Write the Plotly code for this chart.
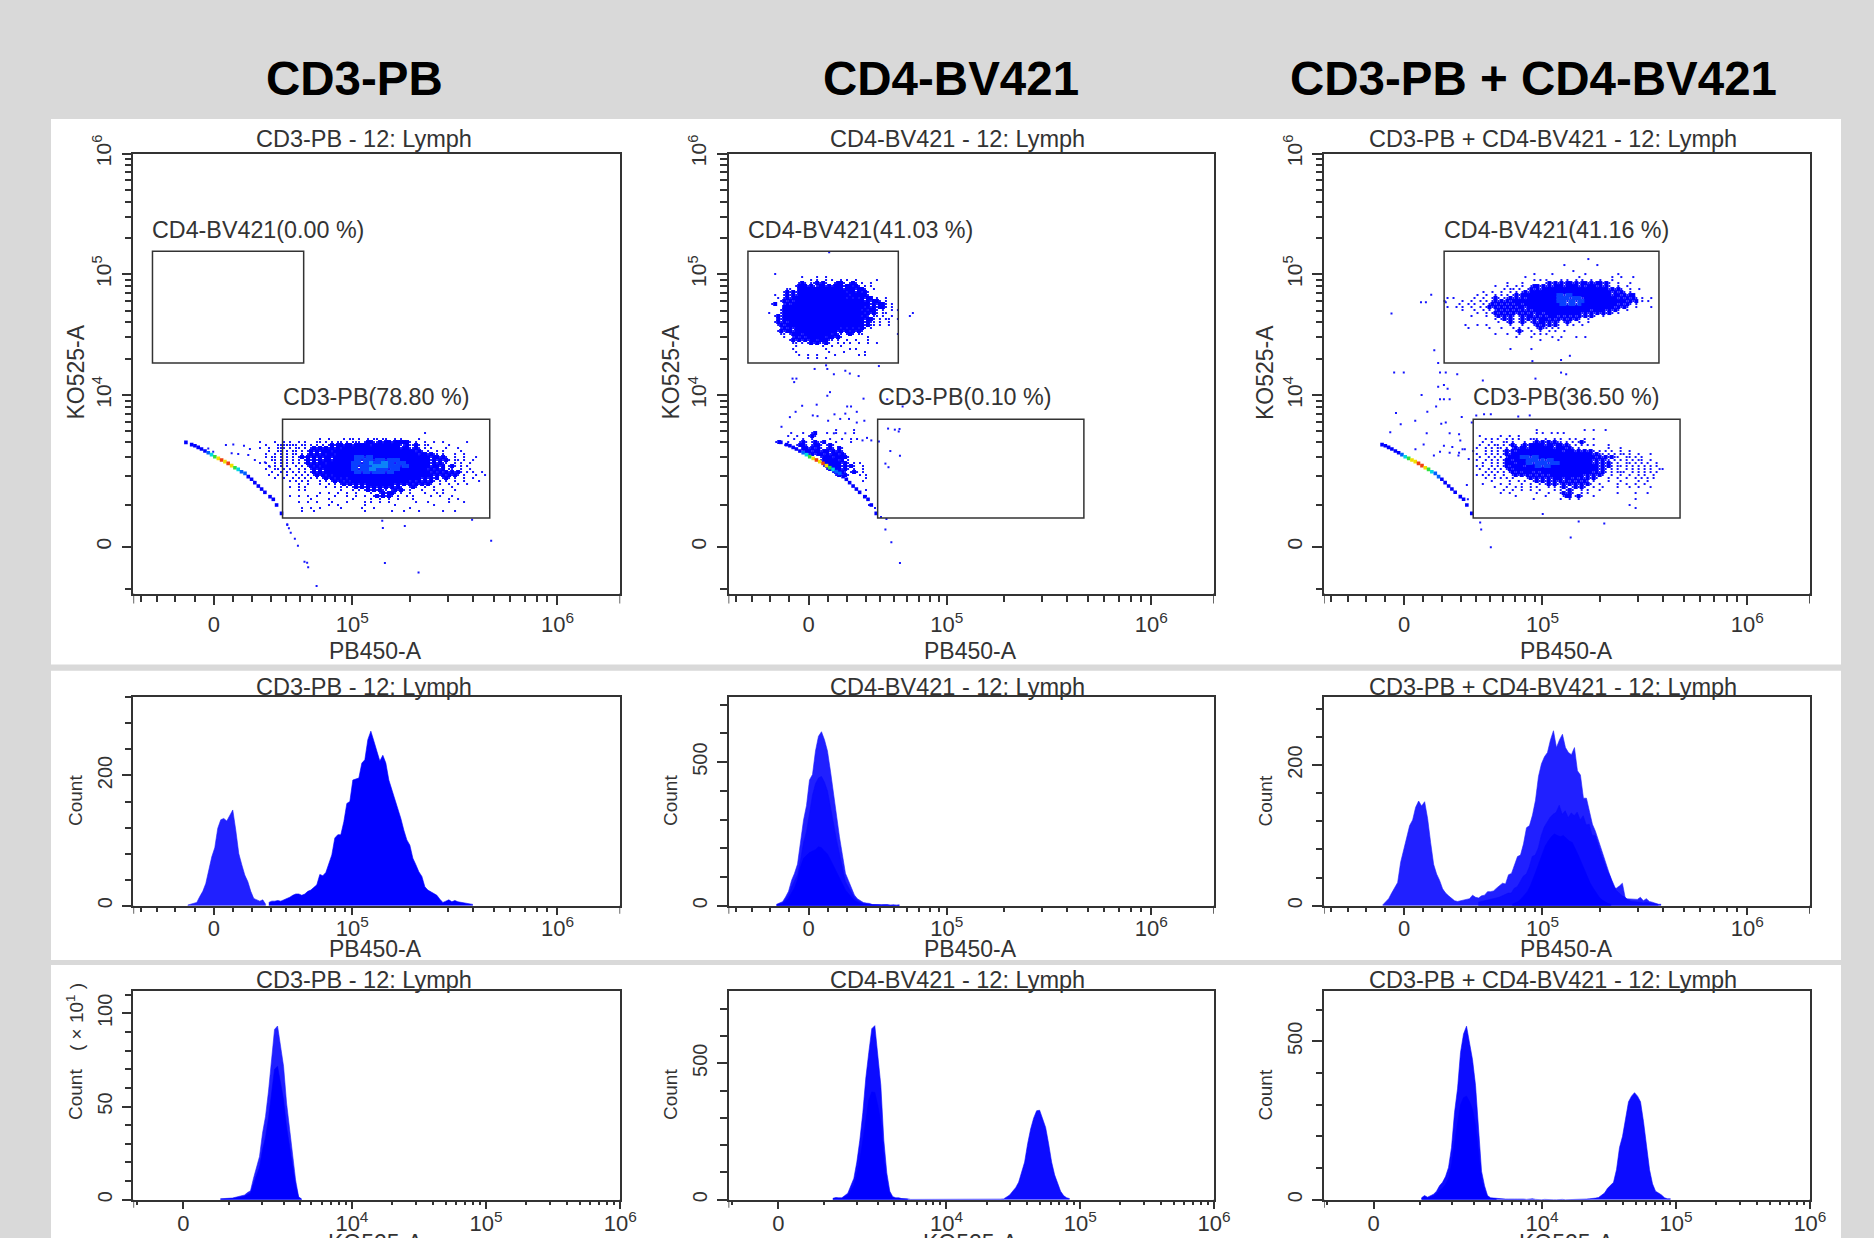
import plotly.graph_objects as go

W, H = 1874, 1238
FONT = "Liberation Sans"
INK = "#333333"
GRAY = "#d9d9d9"

HEADERS = ["CD3-PB", "CD4-BV421", "CD3-PB + CD4-BV421"]
HEADER_X = [354, 951, 1533]
TITLES = ["CD3-PB - 12: Lymph", "CD4-BV421 - 12: Lymph", "CD3-PB + CD4-BV421 - 12: Lymph"]
TITLE_X = [364, 957, 1553]
XTITLE_X = [375, 970, 1566]
YTITLE_X = [75, 670, 1264.5]

COL_L = [133.4, 728.5, 1323.9]
COL_R = [620.2, 1214.0, 1809.9]
ROW_T = [153.6, 697.3, 991.0]
ROW_B = [593.6, 905.7, 1199.7]

# axis scales, in decades of the display (biexponential) transform
PB_RANGE = [3.933, 6.306]
PB_TICKS = [4.325, 5.0, 6.0]
PB_LABELS = ["0", "10<sup>5</sup>", "10<sup>6</sup>"]
PB_MINOR = [3.970, 4.049, 4.138, 4.231, 4.418, 4.511, 4.604, 4.675, 4.743, 4.806, 4.866, 4.916, 4.963,
            5.28, 5.466, 5.588, 5.69, 5.77, 5.84, 5.90, 5.951]
KO_RANGE_X = [2.371, 6.0]
KO_RANGE_Y = [2.355, 6.0]
KO_TICKS = [2.743, 4.0, 5.0, 6.0]
KO_TICKS_X_LABELS = ["0", "10<sup>4</sup>", "10<sup>5</sup>", "10<sup>6</sup>"]
KO_Y_TICKS = [2.743, 4.0, 5.0, 6.0]
KO_Y_LABELS = ["0", "10<sup>4</sup>", "10<sup>5</sup>", "10<sup>6</sup>"]
KO_MINOR = [2.396, 3.086, 3.328, 3.49, 3.61, 3.698, 3.778, 3.845, 3.903, 3.954,
            4.301, 4.477, 4.602, 4.699, 4.778, 4.845, 4.903, 4.954,
            5.301, 5.477, 5.602, 5.699, 5.778, 5.845, 5.903, 5.954]

COUNT_RANGES = [[320, 726, 296.6], [112, 765, 659]]
COUNT_TICKS = [[[0, 200], [0, 500], [0, 200]], [[0, 50, 100], [0, 500], [0, 500]]]
COUNT_MINOR = [[[40, 80, 120, 160, 240, 280, 320], [100, 200, 300, 400, 600, 700], [40, 80, 120, 160, 240, 280]],
               [[10, 20, 30, 40, 60, 70, 80, 90, 110], [100, 200, 300, 400, 600, 700], [100, 200, 300, 400, 600]]]

# gates: x0, x1, y0, y1 in axis units; label
GATE_CD4_X = [[4.026, 4.763], [4.028, 4.763], [4.52, 5.569]]
GATE_CD4_Y = [4.266, 5.192]
GATE_CD3_X = [[4.660, 5.670], [4.662, 5.670], [4.662, 5.672]]
GATE_CD3_Y = [2.982, 3.799]
LABEL_CD4 = ["CD4-BV421(0.00 %)", "CD4-BV421(41.03 %)", "CD4-BV421(41.16 %)"]
LABEL_CD3 = ["CD3-PB(78.80 %)", "CD3-PB(0.10 %)", "CD3-PB(36.50 %)"]

# negative-population streak along the axis, with density level
STREAK_X = [4.189, 4.217, 4.233, 4.249, 4.265, 4.282, 4.298, 4.314, 4.330, 4.347, 4.363, 4.379, 4.395, 4.412,
            4.428, 4.444, 4.460, 4.477, 4.493, 4.509, 4.525, 4.542, 4.558, 4.574, 4.599, 4.615, 4.631, 4.655]
STREAK_Y = [3.608, 3.589, 3.580, 3.566, 3.553, 3.536, 3.522, 3.506, 3.489, 3.475, 3.462, 3.448, 3.434, 3.415,
            3.398, 3.384, 3.365, 3.351, 3.324, 3.302, 3.274, 3.246, 3.221, 3.194, 3.158, 3.136, 3.089, 3.020]
STREAK_LEVEL = [0, 0, 0, 0, 0, 0, 1, 2, 3, 4, 5, 4, 5, 4, 3, 2, 1, 1, 0, 0, 0, 0, 0, 0, 0, 0, 0, 0]
STREAK_LEVEL_3 = [0, 0, 0, 0, 0, 0, 0, 1, 2, 3, 4, 4, 5, 5, 4, 3, 2, 1, 1, 0, 0, 0, 0, 0, 0, 0, 0, 0]
LEVEL_COLORS = ["#0000ff", "#0060ff", "#00d8e0", "#30e040", "#f0e000", "#f04010"]

STRAY_1_X = [4.298, 4.322, 4.384, 4.420, 4.472, 4.501, 4.412, 4.444, 4.493, 4.525, 4.574, 4.598, 4.683, 4.691,
             4.72, 4.735, 4.767, 4.78, 4.785, 4.826, 5.677, 5.159, 5.323, 5.149, 5.146, 5.256, 5.584, 4.683, 4.70]
STRAY_1_Y = [3.558, 3.531, 3.586, 3.591, 3.580, 3.553, 3.517, 3.511, 3.503, 3.462, 3.442, 3.406, 2.923, 2.896,
             2.81, 2.751, 2.618, 2.61, 2.574, 2.417, 2.793, 2.609, 2.53, 2.899, 2.959, 2.914, 2.967, 2.929, 2.86]
STRAY_2_X = [4.354, 4.410, 4.416, 4.448, 4.504, 4.526, 4.569, 4.668, 4.246, 4.265, 4.254, 4.416, 4.429, 4.593,
             4.233, 4.261, 4.293, 4.364, 4.345, 4.368, 4.420, 4.451, 4.479, 4.504, 4.513, 4.532, 4.560, 4.522,
             4.597, 4.560, 4.504, 4.448, 4.588, 4.610, 4.631, 4.668, 4.192, 4.709, 4.784, 4.713, 4.746, 4.769,
             4.765, 4.724, 4.771, 4.700, 4.715, 4.705, 4.700, 4.729, 4.771, 4.425]
STRAY_2_Y = [4.216, 4.246, 4.216, 4.172, 4.201, 4.178, 4.157, 4.240, 4.136, 4.136, 4.107, 3.994, 4.024, 3.970,
             3.817, 3.861, 3.911, 3.920, 3.831, 3.825, 3.787, 3.840, 3.802, 3.846, 3.905, 3.905, 3.861, 3.802,
             3.787, 3.772, 3.683, 3.683, 3.624, 3.645, 3.624, 3.615, 3.737, 3.964, 3.905, 3.722, 3.713, 3.719,
             3.698, 3.536, 3.497, 3.432, 3.402, 2.973, 2.885, 2.781, 2.609, 5.183]
STRAY_3_X = [4.263, 4.407, 4.431, 4.457, 4.528, 4.472, 4.491, 4.276, 4.323, 4.500, 4.528, 4.584, 4.491, 4.519,
             4.537, 4.410, 4.500, 4.519, 4.547, 4.481, 4.285, 4.438, 4.379, 4.308, 4.506, 4.528, 4.606, 4.655,
             4.257, 4.435, 4.547, 4.593, 4.599, 4.519, 4.547, 4.593, 4.621, 4.662, 4.631, 4.636, 4.696, 4.701,
             4.748, 5.177, 5.302, 5.138, 4.677, 4.715, 4.748, 4.882, 4.938, 4.709, 4.966, 5.091, 5.116, 4.951,
             5.091, 5.134, 4.38, 4.42, 4.47, 4.50, 4.56, 4.59, 4.61, 4.64]
STRAY_3_Y = [4.675, 4.769, 4.769, 4.831, 4.769, 4.370, 4.266, 4.186, 4.186, 4.186, 4.186, 4.172, 4.068, 4.083,
             4.053, 4.0, 3.964, 3.964, 3.964, 3.905, 3.852, 3.861, 3.787, 3.757, 3.763, 3.772, 3.817, 3.772,
             3.692, 3.683, 3.683, 3.675, 3.624, 3.580, 3.521, 3.521, 3.550, 3.536, 3.254, 3.136, 2.944, 2.885,
             2.740, 2.953, 2.935, 2.820, 3.831, 3.840, 3.840, 3.822, 3.831, 4.121, 4.136, 4.186, 4.172, 4.281,
             4.290, 4.325, 3.55, 3.59, 3.50, 3.53, 3.57, 3.50, 3.55, 3.47]

CELL_X, CELL_Y = 0.01463, 0.02485

# density maps: '.' lone event, '#' dense, 'o' denser, 'c' densest
BLOB_1_X0, BLOB_1_Y0 = 4.550, 3.710
BLOB_1 = [
"",
"                                                       .",
"",
"                    .  .    . .. .  . .. ..  . .     .",
".    .  . .  . .   .. . . .. . ... .##..#.##.#####. .  .  .  .       .",
"  .   ....... .. . . . .#.##.##.#####.#########..#..#. ..      .",
".  .  ... . .. . .#.#.#.#.#.###################.##..#. . .    .   .",
"   .  .. . .. . .#.#.###.###########################.#. .  . .     .",
"  .  . . . .. . .#.#.#.##.###########################.##.#.. .   .  .",
"  . .. . . . .#.#.#.#.##.#######ooo.oo###################.##.#.  .  .   .",
"    .. . . . . .#.#.#.##.#######oo.ooo.ooo.oooo##########.#.#.#. .. .  .",
". .  . . . . . .#.#.##.########ooo.oocoooccoo.ooo########.#.#..  . .  .",
"   . . . .  . . .#.#.##########oo.oooocccccoooo.oo#######.##.# .#. . .",
"  .  .. . .  . . .#.#.#########oo.oooccoooo.ooo#########.#.#.# ..  .  .",
"    .  . . . . . .#.#.##########oo.oo.oooo.oo############.#.#.#.#.#. . .  .",
"   .  .  .  . . . .#.#.#.#################################.#.#.#.#. .   .  .",
"     .  .  . . . . . .#.#.#.#.########################.#.#.# .#. .  .  .",
"          . . . .   . . .#.#.#.###################.#.#.#.#. . .  .  .    .",
"             .  .   .  . . .#.#.#.#.#########.#.#.#.#.#.#.  .  .  .  .",
"          .  . .      .  . . . .#.#.#.#.#.#.#.#.  .#.  .  .     .",
"             . .           .   . . .#.#.#.. .#.#. .   .   .  .   .",
"                    .  .  .  .  .    .  .#.##. .  .    .   . .",
"          .  .  .  .     .   .  .  .  .#.#.#. .  . .     .  .   .",
"                 .     .       .     .  .  .  .    .           .  .",
"             .  .  .    .    .     . .  .  .        .   .      .    .",
"                       .  .        .         .            .",
"              .  .  .      .      .   .           .",
"              .   .                .        .   .    .       .   .",
]

BLOB_2_X0, BLOB_2_Y0 = 4.088, 5.077
BLOB_2 = [
"",
"",
"",
"     .",
"              .    .  .",
"                 . .  . .  . .  .      .",
"             .#. ..#.#.  .##. .#. .  .",
"            .###.#..##.#.###.##.#. . .",
"         ..  ###############.###.##.  .",
"        .#.#.################.##.#.#.",
"     .  .#.#.#################.#####.",
"      . .#.##################.#.#.#.## .  .",
"       .#.#.#######################.#.##. .",
"    .#  .#.##########################.#.##. .",
"        ###########################.#.#.##. .",
"       .##########################.#.##. .  . .",
"   .   .###########################.#.#. ..        .",
"     .#.##########################.#. .. .  .     .",
"      #.###########################.##. . ..  .",
"     .#.#.#########################.#.. .  .",
"      .#.##########################.#.. .  .",
"       .#.#.###############.#.#.#.#. .",
"      .#.##.##############.#.#.#.#.",
"       .. .###.#########.#.. .#. ..           .",
"        .  .#.#.######.##.#.        .",
"          .#.#.#.##.###.. .  .  .   .",
"           .. . .#.#..#.  . . .  .  .  .",
"            .        .  .  .",
"           .          .       . .",
"            .          .    .      .",
"             .  .  .     .       . .",
"                .  .  .",
]

CLUSTER_2_X0, CLUSTER_2_Y0 = 4.137, 3.710
CLUSTER_2 = [
"                      .     .",
"       .   .  .#   .  .     .",
"      .  .   .#.",
"        .  .  .     .   .  . .",
"  .#  .   .#. .#..#   .    .",
"     .   .##. .##. .#.",
"        .  ##.#.#. .#. #.",
"          ..##.##.##.#.#.",
"             .#.##.#.##.#.",
"                 .###.####.",
"                 .#####.# .",
"                  ######.#. . .",
"                  .#####.#.#.  .",
"                   .####.#. .  .",
"                     .###. .#. .",
"                      .#.#.   . .",
"                                .",
"                               .",
"",
"",
"                                .",
"",
"                                .",
"",
"",
"                                 .",
"                                   .",
"",
"",
"                                     .",
]

BLOB_3A_X0, BLOB_3A_Y0 = 4.405, 5.201
BLOB_3A = [
"",
"",
"",
"                                                        .",
"",
"                                                .          .",
"",
"                                                   .",
"                                      .     .          .          .",
"                                   .                 .          .  .   .",
"                                      . . .    . .  . .  .  .   .",
"                             .    .       .#.#.#.##.#.##.#.##.#.  .   .",
"                         .   .  . .  .##.#.#.###.####.#.###.#.#.  .  .",
"                            . .. .  .#.#.######################.#.#.  .  .",
"                     .  .  .  . . .#.###########################.#.#. .",
"                   .  .  . . . .#.############oo.oo#############.##.#.##",
"         . .      .  .  .#. ..#.#.#.##########oooo.ooo.###########.#.#.#. .  .",
"        .     .  .  . . .#.#.#.###############ooo.oo.oo##############.#.# . .",
"             .  . .  . .#.#.#.#.##.############oo.oo.o############.#.#. .",
"         .  . .  .  . .#.#.#.#.#.##.#############################.#.#.  .    .",
"              .   .  . . .#.#.#.#.#.#.###################.####.#.#.  .",
"                   .  . .#.#.#.#.#.#.#.##.############.#.#.#.#.#. .",
"                 .    .  .#.#.#. .#.##.#.#.###.#.#.#.#.#.#.  .",
"                         . .#.#. .#.#.#.###.#.#.#.#.#.  .",
"                          .  .#. .#. .#.##.#.#. .#.  .  .",
"               .   .  .       .   .   .#.#.#.#.  . .  .",
"                .      .   .   . .  .  .#.. . .",
"                                .#.  .  .  . .  .",
"                         .   .   .    . . .",
"                                .    .      .  .    .  .",
"                                        .     .",
"",
"",
"                              .      .",
]

BLOB_3B_X0, BLOB_3B_Y0 = 4.665, 3.710
BLOB_3B = [
"                     .               .  .   .",
"                     . .  . . .",
"  .      .  .  .",
"    . . .  . . .   ...  .  . .  . .  .  .",
"   .  .   .. .   .  .#.#.#.#.. . . .#.",
"  .  . .. . .#. .#.#####.##.##.#. . . . .    .",
" .  . . .. . .#.##.########.###.#. .         .   .",
"    . . . .#.#.###############.###.#.#.#. . . .  .  .",
" .  . . . .#.###########################.#.. . . .. .  .   .",
"  .  . . . .####ooo.oo###################.#.#.#..  .. . .",
" .  . . . .##.####oooo.o.oo#############.#.#.. . . . . ..  .",
"   .  . . .###.###oo.oooo.ooo###########.#.#.#. .  .. . . .  .",
" . .  . . .#.####.###oo.oo################.#.#. .. . . . . . .",
"  .  . . . .#.############################.#. . .  . . . . .  ..",
"    . . . . .#.#.###.#.#################.#.#. . ...  . . . . .",
" . . . .  .  .#.#.#.#.#.#.###########.#.#.#.  .  .  .  . .  .",
"    .  . . . .    .#.#.#.#.###.##.#.#.#.#.   .  .  .  . . . .",
"      .     .  . .  .#.#.#.#.#.#.#.#.#. .    .   .     .  .",
"   .     .  .   .  .  . .#.#..#.#.#.#.#.  .     .  .  .  .",
"       .   .  . .  . .   . . .#. .#.#.  .  .    .   .  .   .",
"          .  .  .  .  .    . . .#.  . .   .",
"         .  .        .   .   .#.#.  . .         .     .   .",
"              .         .     .## .#.   .",
"                    .        .  .  .                  .",
"",
"                                                    .",
"                                                      .",
"",
"                       .",
]

# histograms: counts per display bin
PB_BIN, KO_BIN = 0.01463, 0.0224
HIST_A1_X0 = 4.198
HIST_A1_LOW = [1, 2, 3, 5, 14, 22, 34, 57, 75, 89, 119, 132, 134, 130, 139, 147, 116, 80, 63, 47, 37, 22, 11, 9, 7, 9, 2]
HIST_A1_HIGH = [5, 7, 7, 8, 7, 9, 10, 13, 16, 18, 18, 16, 18, 22, 24, 28, 32, 48, 46, 51, 63, 78, 104, 109, 109, 129,
                157, 160, 193, 195, 196, 219, 224, 255, 268, 253, 239, 222, 231, 219, 193, 178, 165, 152, 134, 116,
                101, 93, 73, 63, 52, 45, 29, 24, 21, 19, 16, 10, 5, 7, 9, 6, 8, 6, 5, 4, 3, 3, 2]
HIST_A2_X0 = 4.168
HIST_A2_OUTER = [5, 9, 14, 30, 50, 88, 113, 145, 215, 298, 349, 438, 457, 539, 590, 606, 578, 539, 469, 387, 310, 240,
                 177, 113, 88, 62, 37, 24, 18, 11, 9, 8, 4, 5, 4, 3, 4, 4, 1, 3, 1, 3]
HIST_A2_MID = [3, 6, 10, 22, 37, 65, 84, 108, 158, 220, 258, 325, 385, 425, 445, 450, 430, 400, 350, 288, 230, 178,
               130, 84, 65, 46, 27, 18, 13, 8, 6, 6, 3, 3, 3, 2, 3, 2, 1, 2, 1, 2]
HIST_A2_INNER = [2, 4, 7, 15, 25, 45, 62, 90, 135, 165, 175, 185, 190, 195, 205, 202, 190, 180, 160, 140, 115, 95, 75,
                 55, 42, 30, 18, 12, 8, 5, 4, 3, 2, 2, 2, 1, 2, 1, 0, 1, 0, 1]
HIST_A3_X0 = 4.220
HIST_A3_OUTER = [1, 5, 10, 18, 25, 33, 62, 80, 98, 114, 122, 140, 149, 142, 148, 124, 90, 59, 45, 36, 24, 18, 14, 10,
                 7, 6, 7, 7, 8, 10, 15, 12, 11, 14, 15, 20, 20, 21, 25, 28, 32, 31, 44, 46, 59, 70, 72, 88, 111, 114,
                 129, 150, 184, 202, 212, 218, 236, 249, 225, 236, 244, 225, 218, 215, 225, 192, 186, 153, 153, 135,
                 116, 106, 93, 80, 67, 57, 41, 25, 25, 28, 32, 10, 10, 9, 10, 9, 12, 7, 10, 6, 5, 4, 2]
HIST_A3_MID_X0 = 4.687
HIST_A3_MID = [5, 6, 6, 8, 9, 10, 11, 12, 14, 16, 18, 18, 25, 27, 35, 42, 45, 55, 70, 72, 82, 100, 112, 120, 126, 130,
               133, 143, 130, 135, 125, 132, 128, 133, 122, 128, 115, 116, 100, 100, 85, 72, 62, 50, 42, 32, 22, 18,
               14, 12, 8, 6, 6, 5, 5, 4, 5, 4, 3, 3, 2, 2]
HIST_A3_INNER_X0 = 4.853
HIST_A3_INNER = [2, 4, 6, 10, 15, 20, 28, 38, 50, 62, 75, 85, 92, 98, 102, 100, 98, 100, 96, 92, 90, 82, 72, 62, 52,
                 42, 32, 25, 18, 12, 8, 5, 3, 2]
HIST_B1_X0 = 3.020
HIST_B1_OUTER = [0.5, 0.5, 0.5, 0.5, 0.9, 1.3, 1.6, 2, 2.5, 3.8, 4.8, 11.5, 17, 23.2, 35.7, 44.7, 58.3, 75.2, 91.4,
                 93.2, 83.3, 71.6, 51.9, 37.5, 23.2, 10.6, 1.6, 0.4]
HIST_B1_INNER = [0.3, 0.3, 0.3, 0.4, 0.6, 0.9, 1.2, 1.5, 1.8, 2.8, 3.6, 8.6, 12.8, 17.4, 26.8, 33.5, 43.7, 56.4, 70,
                 71.6, 62.5, 53.7, 39, 28, 17.4, 8, 1.2, 0.3]
HIST_B2_X0 = 3.151
HIST_B2_OUTER = [5, 8, 7, 7, 15, 24, 51, 78, 138, 218, 319, 446, 540, 627, 638, 514, 420, 218, 98, 31, 11, 7, 7, 4, 4, 3,
                 1, 1, 1, 0, 0, 2, 0, 1, 2, 1, 0, 0, 0, 0, 0, 1, 2, 1, 0, 0, 0, 0, 1, 1, 1, 1, 1, 1, 2, 2, 2, 3,
                 11, 17, 31, 44, 64, 98, 138, 205, 259, 299, 326, 328, 299, 265, 205, 138, 91, 58, 31, 15, 7, 4]
HIST_B2_INNER = [3, 5, 4, 4, 10, 16, 34, 52, 92, 146, 215, 300, 365, 395, 393, 345, 285, 146, 65, 20, 7, 4, 4, 2, 2, 2]
HIST_B3_X0 = 3.100
HIST_B3_OUTER = [6, 13, 8, 13, 17, 27, 44, 55, 73, 102, 165, 275, 350, 465, 523, 548, 500, 442, 361, 217, 90, 44, 13, 6,
                 5, 3, 2, 1, 2, 2, 1, 2, 2, 3, 2, 1, 2, 3, 1, 0, 0, 1, 0, 1, 0, 0, 1, 1, 0, 0, 0, 1, 1, 1, 1, 2,
                 3, 3, 5, 7, 13, 21, 36, 44, 55, 95, 165, 200, 252, 309, 327, 338, 327, 309, 246, 165, 95, 50, 27, 21,
                 15, 6, 3, 3]
HIST_B3_INNER = [4, 8, 5, 8, 11, 18, 29, 36, 48, 68, 110, 180, 235, 300, 322, 327, 310, 285, 235, 145, 60, 29, 9, 4, 3, 2]

LIGHT, MID, DEEP = "#2020ff", "#0c0cff", "#0000ff"


def stipple(rows, x0, y0):
    cells = {}
    for r, row in enumerate(rows):
        for c, ch in enumerate(row):
            if ch != " ":
                cells.setdefault(ch, ([], []))
                cells[ch][0].append(x0 + c * CELL_X)
                cells[ch][1].append(y0 - r * CELL_Y)
    return cells


fig = go.Figure()
STYLE = {".": (2.0, "#1414ff"), "#": (4.0, "#0000ff"), "o": (4.0, "#0a40ff"), "c": (4.0, "#0c84f8")}


def add_map(rows, x0, y0, n):
    cells = stipple(rows, x0, y0)
    for ch in [".", "#", "o", "c"]:
        if ch in cells:
            size, color = STYLE[ch]
            fig.add_trace(go.Scatter(x=cells[ch][0], y=cells[ch][1], mode="markers", xaxis=f"x{n}", yaxis=f"y{n}",
                                     marker=dict(symbol="square", size=size, color=color, line=dict(width=0))))


def add_points(xs, ys, n):
    fig.add_trace(go.Scatter(x=xs, y=ys, mode="markers", xaxis=f"x{n}", yaxis=f"y{n}",
                             marker=dict(symbol="square", size=2.0, color="#1414ff", line=dict(width=0))))


def add_streak(levels, n, start=0):
    fig.add_trace(go.Scatter(x=STREAK_X[start:], y=STREAK_Y[start:], mode="markers", xaxis=f"x{n}", yaxis=f"y{n}",
                             marker=dict(symbol="square", size=3.6, line=dict(width=0),
                                         color=[LEVEL_COLORS[v] for v in levels[start:]])))


def add_hist(values, x0, bin_w, color, n):
    xs = [x0 + i * bin_w for i in range(len(values))]
    fig.add_trace(go.Scatter(x=xs, y=values, mode="lines", fill="tozeroy", fillcolor=color, xaxis=f"x{n}", yaxis=f"y{n}",
                             line=dict(color=color, width=0.6)))


add_map(BLOB_1, BLOB_1_X0, BLOB_1_Y0, 1)
add_points(STRAY_1_X, STRAY_1_Y, 1)
add_streak(STREAK_LEVEL, 1)
add_map(BLOB_2, BLOB_2_X0, BLOB_2_Y0, 2)
add_map(CLUSTER_2, CLUSTER_2_X0, CLUSTER_2_Y0, 2)
add_points(STRAY_2_X, STRAY_2_Y, 2)
add_streak(STREAK_LEVEL, 2)
add_map(BLOB_3A, BLOB_3A_X0, BLOB_3A_Y0, 3)
add_map(BLOB_3B, BLOB_3B_X0, BLOB_3B_Y0, 3)
add_points(STRAY_3_X, STRAY_3_Y, 3)
add_streak(STREAK_LEVEL_3, 3, 1)

add_hist(HIST_A1_LOW, HIST_A1_X0, PB_BIN, LIGHT, 4)
add_hist(HIST_A1_HIGH, HIST_A1_X0 + len(HIST_A1_LOW) * PB_BIN, PB_BIN, DEEP, 4)
add_hist(HIST_A2_OUTER, HIST_A2_X0, PB_BIN, LIGHT, 5)
add_hist(HIST_A2_MID, HIST_A2_X0, PB_BIN, MID, 5)
add_hist(HIST_A2_INNER, HIST_A2_X0, PB_BIN, DEEP, 5)
add_hist(HIST_A3_OUTER, HIST_A3_X0, PB_BIN, LIGHT, 6)
add_hist(HIST_A3_MID, HIST_A3_MID_X0, PB_BIN, MID, 6)
add_hist(HIST_A3_INNER, HIST_A3_INNER_X0, PB_BIN, DEEP, 6)
add_hist(HIST_B1_OUTER, HIST_B1_X0, KO_BIN, LIGHT, 7)
add_hist(HIST_B1_INNER, HIST_B1_X0, KO_BIN, DEEP, 7)
add_hist(HIST_B2_OUTER, HIST_B2_X0, KO_BIN, MID, 8)
add_hist(HIST_B2_INNER, HIST_B2_X0, KO_BIN, DEEP, 8)
add_hist(HIST_B3_OUTER, HIST_B3_X0, KO_BIN, MID, 9)
add_hist(HIST_B3_INNER, HIST_B3_X0, KO_BIN, DEEP, 9)

layout = dict(
    width=W, height=H, autosize=False, margin=dict(l=0, r=0, t=0, b=0, autoexpand=False),
    paper_bgcolor=GRAY, plot_bgcolor="white", showlegend=False,
    font=dict(family=FONT, color=INK, size=22),
)
axis_common = dict(showline=True, mirror=True, linecolor=INK, linewidth=1.5, showgrid=False, zeroline=False,
                   ticks="outside", tickwidth=1.5, tickcolor=INK, tickmode="array",
                   fixedrange=True, tickfont=dict(family=FONT, size=22, color=INK))

X_TICKLEN = [10, 8, 8]
X_MINORLEN = [6.5, 5, 4]
X_STANDOFF = [0, -6, -5]
Y_TICKSIZE = [21, 20, 20]


def minor(vals, length=6.5):
    return dict(tickmode="array", tickvals=vals, ticks="outside", ticklen=length, tickwidth=1.5, tickcolor=INK,
                showgrid=False)


shapes = [
    dict(type="rect", xref="paper", yref="paper", layer="below", line=dict(width=0), fillcolor="white",
         x0=51 / W, x1=1841 / W, y0=1 - 664.6 / H, y1=1 - 119 / H),
    dict(type="rect", xref="paper", yref="paper", layer="below", line=dict(width=0), fillcolor="white",
         x0=51 / W, x1=1841 / W, y0=1 - 960 / H, y1=1 - 670.7 / H),
    dict(type="rect", xref="paper", yref="paper", layer="below", line=dict(width=0), fillcolor="white",
         x0=51 / W, x1=1841 / W, y0=0, y1=1 - 965 / H),
]

for r in range(3):
    for c in range(3):
        n = r * 3 + c + 1
        xa = dict(axis_common, domain=[COL_L[c] / W, COL_R[c] / W], anchor=f"y{n}",
                  ticklen=X_TICKLEN[r], ticklabelstandoff=X_STANDOFF[r])
        ya = dict(axis_common, domain=[1 - ROW_B[r] / H, 1 - ROW_T[r] / H], anchor=f"x{n}", tickangle=-90,
                  ticklen=10, ticklabelstandoff=2, tickfont=dict(family=FONT, size=Y_TICKSIZE[r], color=INK))
        if r < 2:
            xa.update(range=PB_RANGE, tickvals=PB_TICKS, ticktext=PB_LABELS, minor=minor(PB_MINOR, X_MINORLEN[r]))
            edges = PB_RANGE
        else:
            xa.update(range=KO_RANGE_X, tickvals=KO_TICKS, ticktext=KO_TICKS_X_LABELS, minor=minor(KO_MINOR, X_MINORLEN[r]))
            edges = KO_RANGE_X
        # long end ticks at both corners of the x axis
        drop = X_TICKLEN[r] / (ROW_B[r] - ROW_T[r])
        yid = "y domain" if n == 1 else f"y{n} domain"
        for e in edges:
            shapes.append(dict(type="line", xref=f"x{n}", yref=yid, x0=e, x1=e, y0=0, y1=-drop,
                               line=dict(color=INK, width=1.5)))
        if r == 0:
            ya.update(range=KO_RANGE_Y, tickvals=KO_Y_TICKS, ticktext=KO_Y_LABELS, minor=minor(KO_MINOR))
        else:
            ya.update(range=[0, COUNT_RANGES[r - 1][c]], tickvals=COUNT_TICKS[r - 1][c],
                      ticktext=[str(v) for v in COUNT_TICKS[r - 1][c]], minor=minor(COUNT_MINOR[r - 1][c]))
        layout[f"xaxis{n}"] = xa
        layout[f"yaxis{n}"] = ya

annotations = []


def page_text(text, x, y, size=23, bold=False, angle=0, anchor="center"):
    annotations.append(dict(text=f"<b>{text}</b>" if bold else text, xref="paper", yref="paper", x=x / W, y=1 - y / H,
                            showarrow=False, xanchor=anchor, yanchor="middle", textangle=angle,
                            font=dict(family=FONT, size=size, color="#000000" if bold else INK)))


for c in range(3):
    page_text(HEADERS[c], HEADER_X[c], 79, size=47.5, bold=True)
    for y in [139, 687, 980]:
        page_text(TITLES[c], TITLE_X[c], y, size=23.5)
    page_text("PB450-A", XTITLE_X[c], 651)
    page_text("PB450-A", XTITLE_X[c], 949)
    page_text("KO525-A", XTITLE_X[c], 1243)
    page_text("KO525-A", YTITLE_X[c], 372.5, angle=-90)
    page_text("Count", YTITLE_X[c], 801, size=19, angle=-90)
    page_text("Count", YTITLE_X[c], 1095, size=19, angle=-90)
    n = c + 1
    for xs, ys, label, ly in [(GATE_CD4_X[c], GATE_CD4_Y, LABEL_CD4[c], 5.37), (GATE_CD3_X[c], GATE_CD3_Y, LABEL_CD3[c], 3.98)]:
        shapes.append(dict(type="rect", xref=f"x{n}", yref=f"y{n}", x0=xs[0], x1=xs[1], y0=ys[0], y1=ys[1],
                           line=dict(color=INK, width=1.5), layer="above"))
        annotations.append(dict(text=label, xref=f"x{n}", yref=f"y{n}", x=xs[0], y=ly, showarrow=False, xanchor="left",
                                yanchor="middle", xshift=-2, font=dict(family=FONT, size=23.3, color=INK)))
page_text("( × 10<sup>1</sup> )", 75, 1017, size=19, angle=-90)

layout["shapes"] = shapes
layout["annotations"] = annotations
fig.update_layout(**layout)
fig.write_html("out.html", config=dict(displayModeBar=False),
               post_script="document.body.style.margin='0';document.documentElement.style.overflow='hidden';")
